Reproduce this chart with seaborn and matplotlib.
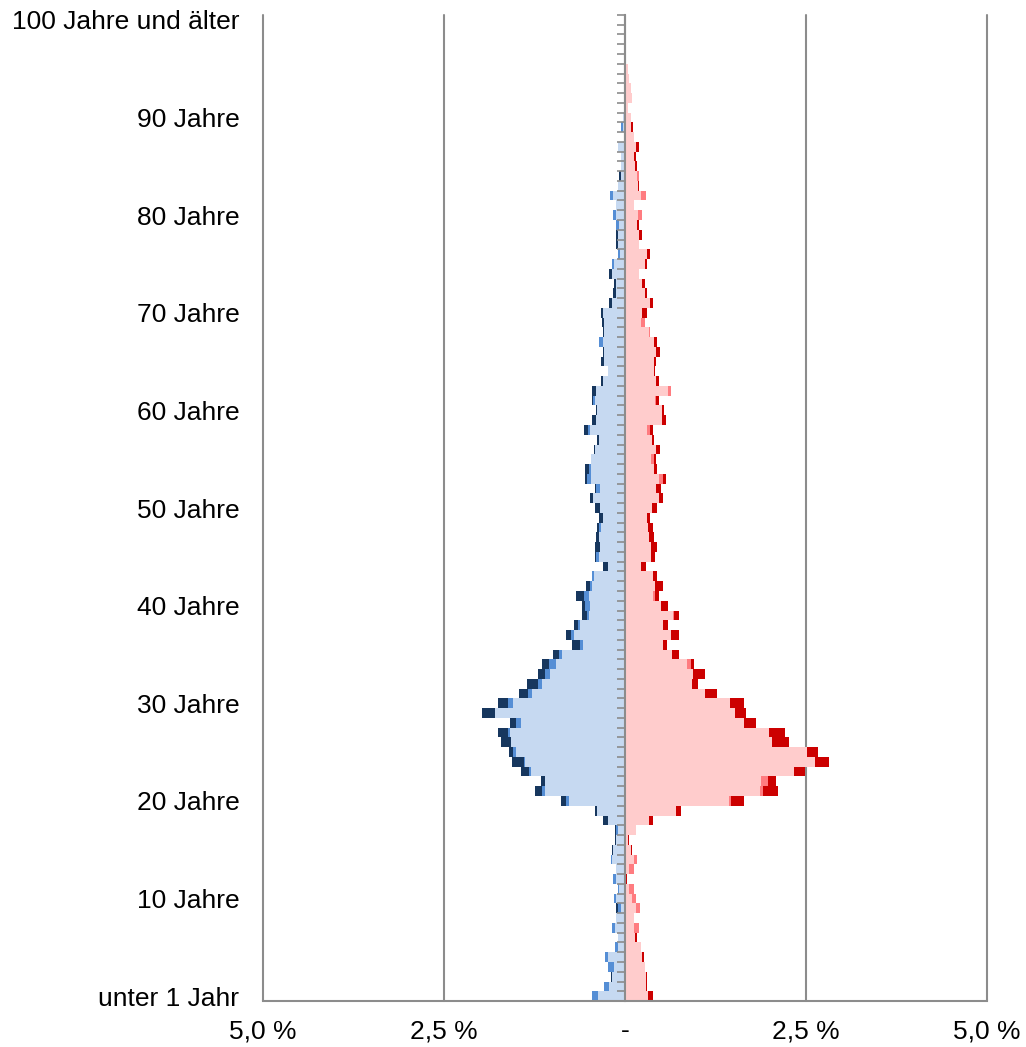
import numpy as np
import pandas as pd
import matplotlib
matplotlib.use("Agg")
import matplotlib.pyplot as plt
import seaborn as sns

# Altersjahre 0 .. 100
ages = list(range(101))

# Männer: heller Balkenteil, mittlerer Zusatz, dunkler Zusatz (in %)
m_light = [
    0.37, 0.22, 0.18, 0.15, 0.23, 0.10, 0.10, 0.14, 0.12, 0.05,
    0.12, 0.08, 0.12, 0.12, 0.18, 0.17, 0.12, 0.09, 0.23, 0.39,
    0.77, 1.11, 1.10, 1.30, 1.38, 1.51, 1.57, 1.59, 1.44, 1.80,
    1.55, 1.29, 1.15, 1.04, 0.95, 0.87, 0.58, 0.70, 0.62, 0.50,
    0.49, 0.50, 0.46, 0.43, 0.24, 0.36, 0.35, 0.36, 0.33, 0.31,
    0.35, 0.44, 0.35, 0.47, 0.47, 0.47, 0.41, 0.36, 0.48, 0.40,
    0.38, 0.41, 0.40, 0.31, 0.24, 0.29, 0.29, 0.31, 0.29, 0.29,
    0.31, 0.18, 0.12, 0.12, 0.18, 0.15, 0.07, 0.10, 0.10, 0.08,
    0.12, 0.12, 0.17, 0.10, 0.05, 0.05, 0.06, 0.09, 0.02, 0.03,
    0.03, 0.01, 0, 0, 0, 0, 0, 0, 0, 0,
    0]
m_mid = [
    0.08, 0.07, 0, 0.09, 0.05, 0.04, 0, 0.04, 0, 0.04,
    0.03, 0.01, 0.04, 0, 0.01, 0, 0, 0.03, 0, 0,
    0.04, 0.04, 0, 0.03, 0.02, 0.03, 0, 0.02, 0.06, 0,
    0.06, 0.05, 0.05, 0.06, 0.10, 0.04, 0.04, 0.04, 0.03, 0.02,
    0.06, 0.06, 0.03, 0.03, 0, 0.04, 0, 0, 0.03, 0,
    0, 0, 0.05, 0.05, 0.03, 0, 0, 0, 0.03, 0,
    0, 0.03, 0, 0, 0, 0, 0, 0.05, 0, 0,
    0, 0, 0, 0, 0, 0.03, 0.03, 0, 0, 0.05,
    0.04, 0, 0.04, 0, 0, 0.01, 0, 0.01, 0, 0.02,
    0, 0, 0, 0, 0, 0, 0, 0, 0, 0,
    0]
m_dark = [
    0, 0, 0.02, 0, 0, 0, 0, 0, 0, 0.03,
    0, 0, 0, 0, 0, 0.01, 0.02, 0.02, 0.07, 0.03,
    0.08, 0.09, 0.06, 0.11, 0.16, 0.06, 0.14, 0.15, 0.09, 0.17,
    0.15, 0.13, 0.16, 0.10, 0.09, 0.08, 0.11, 0.07, 0.05, 0.07,
    0.04, 0.12, 0.05, 0, 0.07, 0.02, 0.06, 0.04, 0.03, 0.05,
    0.07, 0.05, 0.02, 0.03, 0.05, 0, 0.02, 0.03, 0.05, 0.05,
    0.02, 0.01, 0.05, 0.02, 0, 0.04, 0.02, 0, 0.02, 0.03,
    0.02, 0.04, 0.05, 0.03, 0.04, 0, 0, 0.03, 0.02, 0,
    0, 0, 0, 0, 0.03, 0, 0, 0, 0, 0,
    0, 0, 0, 0, 0, 0, 0, 0, 0, 0,
    0]

# Frauen: heller Balkenteil, mittlerer Zusatz, dunkler Zusatz (in %)
f_light = [
    0.32, 0.29, 0.29, 0.27, 0.23, 0.22, 0.14, 0.13, 0.12, 0.15,
    0.10, 0.06, 0.02, 0.06, 0.13, 0.08, 0.04, 0.15, 0.33, 0.71,
    1.44, 1.87, 1.88, 2.34, 2.63, 2.52, 2.03, 1.99, 1.64, 1.52,
    1.45, 1.11, 0.92, 0.94, 0.85, 0.65, 0.52, 0.63, 0.52, 0.66,
    0.50, 0.38, 0.42, 0.39, 0.22, 0.36, 0.36, 0.33, 0.32, 0.30,
    0.37, 0.47, 0.43, 0.47, 0.40, 0.36, 0.43, 0.37, 0.31, 0.51,
    0.51, 0.41, 0.60, 0.43, 0.40, 0.40, 0.43, 0.40, 0.33, 0.22,
    0.24, 0.35, 0.27, 0.23, 0.20, 0.27, 0.31, 0.20, 0.20, 0.17,
    0.18, 0.13, 0.22, 0.18, 0.16, 0.14, 0.13, 0.15, 0.13, 0.08,
    0.08, 0.04, 0.10, 0.08, 0.06, 0.04, 0.01, 0.01, 0, 0,
    0]
f_mid = [
    0, 0, 0, 0, 0, 0, 0, 0.06, 0, 0.06,
    0.05, 0.07, 0, 0.06, 0.04, 0, 0, 0, 0, 0,
    0.03, 0.04, 0.10, 0, 0, 0, 0, 0, 0, 0,
    0, 0, 0, 0, 0.06, 0, 0, 0, 0, 0.02,
    0, 0.04, 0, 0, 0, 0, 0, 0, 0, 0,
    0, 0, 0, 0.05, 0, 0.04, 0, 0, 0.04, 0,
    0, 0.02, 0.04, 0, 0, 0, 0, 0, 0.02, 0.06,
    0, 0, 0, 0, 0, 0, 0, 0, 0, 0,
    0.05, 0, 0.07, 0, 0.04, 0, 0, 0, 0, 0,
    0, 0, 0, 0, 0, 0, 0, 0, 0, 0,
    0]
f_dark = [
    0.07, 0.02, 0.01, 0, 0.03, 0, 0.02, 0, 0, 0,
    0, 0, 0.01, 0, 0, 0.02, 0.02, 0, 0.05, 0.06,
    0.17, 0.20, 0.11, 0.14, 0.19, 0.15, 0.24, 0.22, 0.17, 0.15,
    0.19, 0.16, 0.09, 0.16, 0.05, 0.10, 0.06, 0.11, 0.07, 0.06,
    0.09, 0.05, 0.10, 0.05, 0.07, 0.06, 0.08, 0.07, 0.06, 0.05,
    0.07, 0.05, 0.07, 0.04, 0.04, 0.03, 0.05, 0.03, 0.03, 0.06,
    0.03, 0.04, 0, 0.04, 0.02, 0.03, 0.05, 0.04, 0, 0,
    0.06, 0.03, 0.03, 0.04, 0, 0.03, 0.04, 0, 0.04, 0.03,
    0, 0, 0, 0.02, 0, 0.02, 0.02, 0.04, 0, 0.03,
    0, 0, 0, 0, 0, 0, 0, 0, 0, 0,
    0]

tick_ages = list(range(0, 101, 10))
tick_labels = ["unter 1 Jahr"] + [f"{a} Jahre" for a in range(10, 100, 10)] + ["100 Jahre und älter"]
x_ticks = [-5, -2.5, 0, 2.5, 5]
x_labels = ["5,0 %", "2,5 %", "-", "2,5 %", "5,0 %"]

df = pd.DataFrame({"age": ages})
ml, mm, md = np.array(m_light), np.array(m_mid), np.array(m_dark)
fl, fm, fd = np.array(f_light), np.array(f_mid), np.array(f_dark)
df["m1"] = -ml
df["m2"] = -(ml + mm)
df["m3"] = -(ml + mm + md)
df["f1"] = fl
df["f2"] = fl + fm
df["f3"] = fl + fm + fd

grey = "#8C8C8C"
sns.set_style("white")
plt.rcParams["font.family"] = ["Liberation Sans", "DejaVu Sans"]

fig, ax = plt.subplots(figsize=(10.26, 10.47), dpi=100)
fig.subplots_adjust(left=0.2563, right=0.962, top=0.9857, bottom=0.0439)

order = ages[::-1]
layers = [("m3", "#17375E"), ("m2", "#558ED5"), ("m1", "#C6D9F1"),
          ("f3", "#CC0000"), ("f2", "#FF7C80"), ("f1", "#FFCCCC")]
for col, colour in layers:
    sns.barplot(data=df, x=col, y="age", order=order, orient="h", color=colour,
                width=1.0, linewidth=0, errorbar=None, saturation=1, ax=ax)

ax.set_xlim(-5, 5)
ax.set_ylim(100.5, -0.5)
ax.set_xlabel("")
ax.set_ylabel("")

ax.set_yticks([100 - a for a in tick_ages], tick_labels)
ax.tick_params(axis="y", length=0, pad=17, labelsize=19, labelcolor="black")
ax.set_xticks(x_ticks, x_labels)
ax.tick_params(axis="x", length=6, width=1.5, color=grey, pad=7, labelsize=19,
               labelcolor="black")

ax.grid(axis="x", color=grey, linewidth=1.5)
ax.set_axisbelow(True)
for gl in ax.get_xgridlines():
    gl.set_clip_on(False)
for s in ["left", "right", "top"]:
    ax.spines[s].set_visible(False)
ax.spines["bottom"].set_color(grey)
ax.spines["bottom"].set_linewidth(1.5)

# mittlere Achse mit Strichen zwischen den Altersjahren
sec = ax.secondary_yaxis(0.5)
sec.set_yticks(np.arange(-0.5, 101, 1.0))
sec.tick_params(direction="in", length=6, width=1.2, color=grey,
                labelright=False, labelleft=False)
for s in sec.spines.values():
    s.set_color(grey)
    s.set_linewidth(1.5)
sec.set_zorder(5)

fig.savefig("out.png", dpi=100)
